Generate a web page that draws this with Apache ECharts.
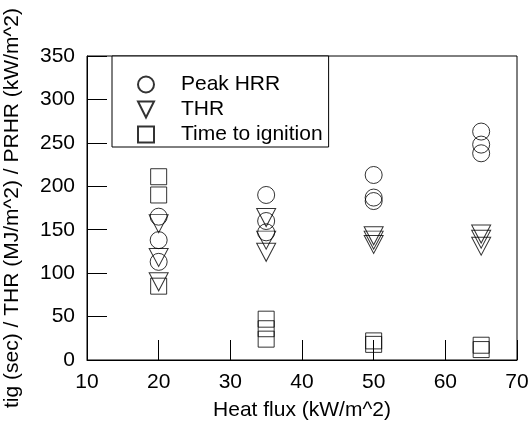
<!DOCTYPE html>
<html>
<head>
<meta charset="utf-8">
<script src="https://cdn.jsdelivr.net/npm/echarts@6/dist/echarts.min.js"></script>
<style>html,body{margin:0;padding:0;background:#fff}#c{width:532px;height:436px}</style>
</head>
<body>
<div id="c"></div>
<script>
// Data
const heatFlux = [20, 35, 50, 65];
const peakHRR = [[165, 138, 113], [190, 160, 147], [213, 187, 183], [263, 248, 238]];
const thr = [[157, 118, 90], [164, 138, 124], [143, 138, 133], [145, 139, 131]];
const tig = [[211, 190, 85], [47, 36, 24], [22, 18], [17, 12]];
const xTicks = [10, 20, 30, 40, 50, 60, 70];
const yTicks = [0, 50, 100, 150, 200, 250, 300, 350];
const seriesNames = ['Peak HRR', 'THR', 'Time to ignition'];

function pts(groups) {
  const out = [];
  groups.forEach((g, i) => g.forEach(v => out.push([heatFlux[i], v])));
  return out;
}

const FONT = 'Liberation Sans, Arial, sans-serif';
const FS = 21;
const markerStyle = { color: 'rgba(0,0,0,0)', borderColor: '#000', borderWidth: 1 };
const downTri = 'path://M0,0 L20,0 L10,20 Z';
const square = 'path://M0,0 L20,0 L20,20 L0,20 Z';

const chart = echarts.init(document.getElementById('c'), null, { renderer: 'canvas' });
chart.setOption({
  animation: false,
  backgroundColor: '#fff',
  textStyle: { fontFamily: FONT },
  grid: { left: 87, right: 15, top: 56, bottom: 76, show: true, borderColor: '#000', borderWidth: 1, backgroundColor: 'transparent', containLabel: false, outerBoundsMode: 'none' },
  legend: {
    orient: 'vertical',
    left: 112, top: 56,
    data: seriesNames,
    itemWidth: 60, itemHeight: 16, itemGap: 4,
    padding: [18, 6, 2, 25],
    borderColor: '#000', borderWidth: 1,
    backgroundColor: '#fff',
    symbolKeepAspect: true,
    textStyle: { fontFamily: FONT, fontSize: FS, color: '#000' },
    selectedMode: false
  },
  xAxis: {
    type: 'value', min: xTicks[0], max: xTicks[xTicks.length - 1], interval: 10,
    name: 'Heat flux (kW/m^2)', nameLocation: 'middle', nameGap: 40,
    nameTextStyle: { fontFamily: FONT, fontSize: FS, color: '#000' },
    axisLine: { show: true, lineStyle: { color: '#000', width: 1 } },
    axisTick: { show: true, inside: true, length: 20, lineStyle: { color: '#000' } },
    axisLabel: { fontFamily: FONT, fontSize: FS, color: '#000', margin: 12 },
    splitLine: { show: false }
  },
  yAxis: {
    type: 'value', min: yTicks[0], max: yTicks[yTicks.length - 1], interval: 50,
    name: 'tig (sec) / THR (MJ/m^2) / PRHR (kW/m^2)', nameLocation: 'middle', nameGap: 64,
    nameTextStyle: { fontFamily: FONT, fontSize: FS, color: '#000' },
    axisLine: { show: true, lineStyle: { color: '#000', width: 1 } },
    axisTick: { show: true, inside: true, length: 20, lineStyle: { color: '#000' } },
    axisLabel: { fontFamily: FONT, fontSize: FS, color: '#000', margin: 12 },
    splitLine: { show: false }
  },
  series: [
    { name: seriesNames[0], type: 'scatter', symbol: 'circle', symbolSize: 17, itemStyle: markerStyle, data: pts(peakHRR) },
    { name: seriesNames[1], type: 'scatter', symbol: downTri, symbolSize: [19, 18], itemStyle: markerStyle, data: pts(thr) },
    { name: seriesNames[2], type: 'scatter', symbol: square, symbolSize: 16, itemStyle: markerStyle, data: pts(tig) }
  ]
});
</script>
</body>
</html>
